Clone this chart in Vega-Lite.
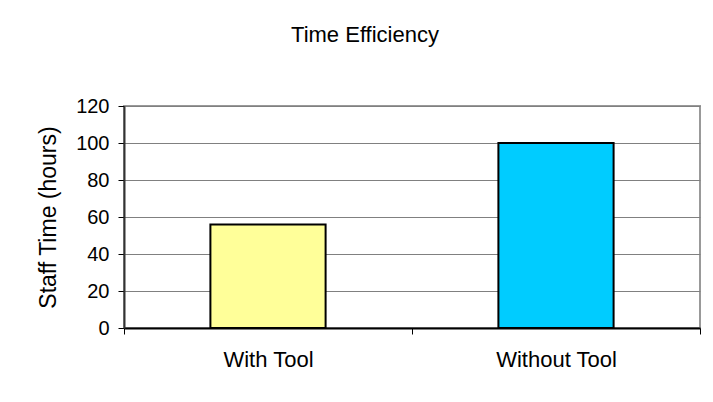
{
  "$schema": "https://vega.github.io/schema/vega-lite/v6.json",
  "width": 576,
  "height": 222,
  "autosize": {"type": "none"},
  "padding": {"left": 124, "top": 106, "right": 13, "bottom": 74},
  "background": "white",
  "title": {
    "text": "Time Efficiency",
    "font": "Liberation Sans",
    "fontSize": 22,
    "fontWeight": "normal",
    "color": "black",
    "anchor": "middle",
    "dx": -47,
    "baseline": "alphabetic",
    "offset": 32
  },
  "data": {
    "values": [
      {"category": "With Tool", "hours": 56},
      {"category": "Without Tool", "hours": 100}
    ]
  },
  "mark": {
    "type": "bar",
    "width": {"band": 0.4},
    "stroke": "black",
    "strokeWidth": 2
  },
  "encoding": {
    "x": {
      "field": "category",
      "type": "nominal",
      "sort": null,
      "scale": {"paddingInner": 0, "paddingOuter": 0},
      "axis": {
        "title": null,
        "labelAngle": 0,
        "tickBand": "extent",
        "tickSize": 6,
        "tickColor": "black",
        "domainColor": "black",
        "domainWidth": 2,
        "labelPadding": 15,
        "labelFont": "Liberation Sans",
        "labelFontSize": 22,
        "labelColor": "black",
        "grid": false
      }
    },
    "y": {
      "field": "hours",
      "type": "quantitative",
      "scale": {"domain": [0, 120], "nice": false},
      "axis": {
        "title": "Staff Time (hours)",
        "titleFont": "Liberation Sans",
        "titleFontSize": 23,
        "titleFontWeight": "normal",
        "titleColor": "black",
        "titleX": -69,
        "titleY": 111,
        "titleAngle": -90,
        "titleBaseline": "alphabetic",
        "titleAlign": "center",
        "values": [0, 20, 40, 60, 80, 100, 120],
        "tickSize": 6,
        "tickColor": "black",
        "domainColor": "#333333",
        "domainWidth": 2,
        "labelPadding": 9,
        "labelFont": "Liberation Sans",
        "labelFontSize": 20,
        "labelColor": "black",
        "grid": true,
        "gridColor": "#808080",
        "gridOpacity": 1,
        "gridWidth": 1
      }
    },
    "color": {
      "field": "category",
      "type": "nominal",
      "scale": {"domain": ["With Tool", "Without Tool"], "range": ["#FFFF99", "#00CCFF"]},
      "legend": null
    }
  },
  "config": {
    "view": {"stroke": "#999999", "strokeWidth": 2}
  }
}
